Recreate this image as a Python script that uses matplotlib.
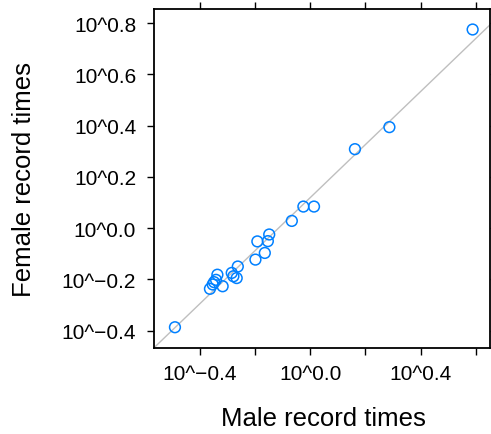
import numpy as np
import matplotlib
matplotlib.use("Agg")
import matplotlib.pyplot as plt

plt.rcParams['font.family'] = ['Liberation Sans', 'DejaVu Sans']

# log10 of record times
male_log = [-0.491,
            -0.337, -0.349, -0.342, -0.364, -0.318, -0.285, -0.279, -0.267, -0.263, -0.354,
            -0.199, -0.192, -0.165, -0.154, -0.149, -0.067, -0.025, 0.0135,
            0.162, 0.287, 0.589]
female_log = [-0.387,
              -0.182, -0.211, -0.202, -0.237, -0.227, -0.175, -0.188, -0.195, -0.150, -0.220,
              -0.123, -0.052, -0.097, -0.051, -0.025, 0.028, 0.084, 0.084,
              0.308, 0.394, 0.775]

x_ticks = [-0.4, -0.2, 0.0, 0.2, 0.4, 0.6]
x_labels = ["10^\u22120.4", "", "10^0.0", "", "10^0.4", ""]
y_ticks = [-0.4, -0.2, 0.0, 0.2, 0.4, 0.6, 0.8]
y_labels = ["10^\u22120.4", "10^\u22120.2", "10^0.0", "10^0.2", "10^0.4", "10^0.6", "10^0.8"]

W, H = 491, 435
fig = plt.figure(figsize=(W / 100, H / 100), dpi=100)
ax = fig.add_axes([154 / W, 1 - 349 / H, (490 - 154) / W, (349 - 10) / H])

x = np.array(male_log)
y = np.array(female_log)
slope, intercept = np.polyfit(x, y, 1)
ax.axline((0, intercept), slope=slope, color='#bfbfbf', lw=1.0, zorder=1)

ax.scatter(x, y, s=60, facecolors='none', edgecolors='#0080ff', linewidths=1.1, zorder=2)

ax.set_xlim(-0.567, 0.652)
ax.set_ylim(-0.468, 0.855)

ax.set_xticks(x_ticks)
ax.set_xticklabels(x_labels)
ax.set_yticks(y_ticks)
ax.set_yticklabels(y_labels)
ax.tick_params(axis='both', direction='out', length=4.8, width=1.0, labelsize=15,
               top=True, right=True, labeltop=False, labelright=False, colors='black')
ax.tick_params(axis='x', pad=7)
ax.tick_params(axis='y', pad=8)
for s in ax.spines.values():
    s.set_linewidth(1.3)
    s.set_color('black')

fig.text(323 / W, 1 - 419 / H, "Male record times", ha='center', va='center', fontsize=18.5)
fig.text(24 / W, 1 - 180 / H, "Female record times", ha='center', va='center',
         rotation=90, fontsize=18.5)

fig.savefig("out.png", dpi=100)
